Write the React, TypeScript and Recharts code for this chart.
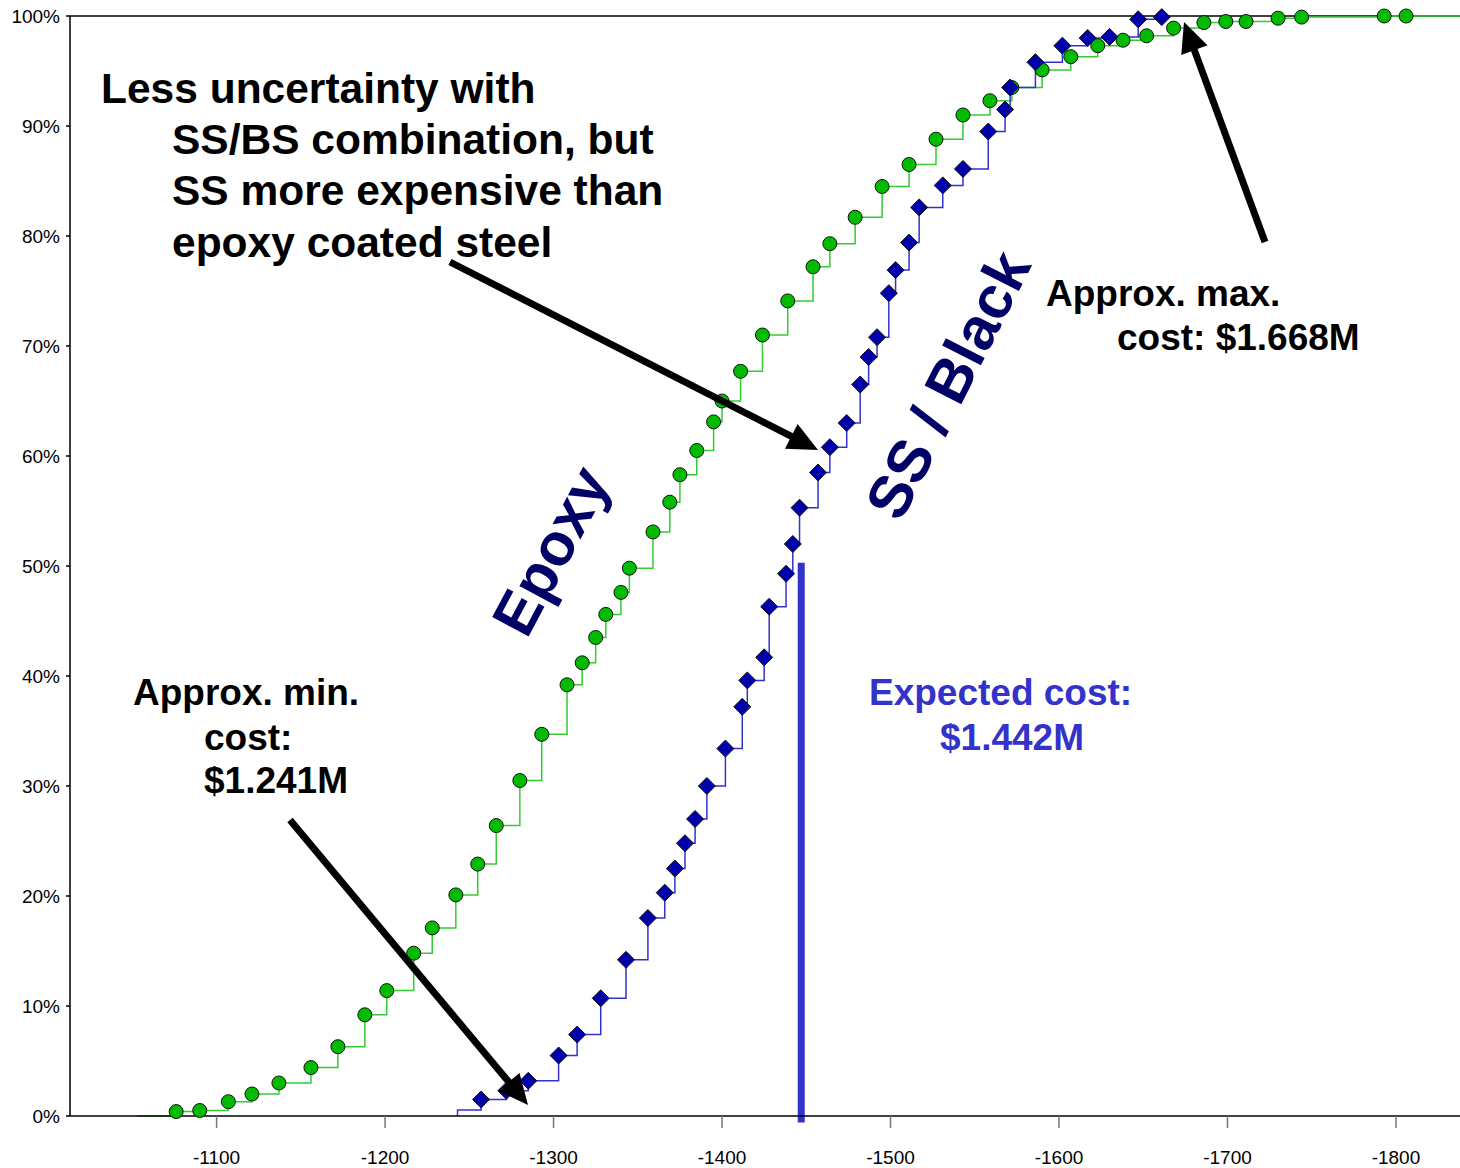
import React from 'react';
import { LineChart, Line, XAxis, YAxis, ReferenceLine } from 'recharts';

// cost (negative, $K) and cumulative probability (%)
const epoxyCost = [
  -1076, -1090, -1107, -1121, -1137, -1156, -1172, -1188, -1201, -1217, -1228, -1242, -1255, -1266,
  -1280, -1293, -1308, -1317, -1325, -1331, -1340, -1345, -1359, -1369, -1375, -1385, -1395, -1400,
  -1411, -1424, -1439, -1454, -1464, -1479, -1495, -1511, -1527, -1543, -1559, -1572, -1590, -1607,
  -1623, -1638, -1652, -1668, -1686, -1699, -1711, -1730, -1744, -1793, -1806,
];
const epoxyPct = [
  0.4, 0.5, 1.3, 2.0, 3.0, 4.4, 6.3, 9.2, 11.4, 14.8, 17.1, 20.1, 22.9, 26.4,
  30.5, 34.7, 39.2, 41.2, 43.5, 45.6, 47.6, 49.8, 53.1, 55.8, 58.3, 60.5, 63.1, 65.0,
  67.7, 71.0, 74.1, 77.2, 79.3, 81.7, 84.5, 86.5, 88.8, 91.0, 92.3, 93.5, 95.1, 96.3,
  97.3, 97.8, 98.2, 98.9, 99.4, 99.5, 99.5, 99.8, 99.9, 100, 100,
];

const ssCost = [
  -1257, -1272, -1285, -1303, -1314, -1328, -1343, -1356, -1366, -1372, -1378, -1384, -1391, -1402,
  -1412, -1415, -1425, -1428, -1438, -1442, -1446, -1457, -1464, -1474, -1482, -1487, -1492, -1499,
  -1503, -1511, -1517, -1531, -1543, -1558, -1568, -1571, -1586, -1602, -1617, -1630, -1647, -1661,
];
const ssPct = [
  1.5, 2.3, 3.2, 5.5, 7.4, 10.7, 14.2, 18.0, 20.3, 22.5, 24.8, 27.0, 30.0, 33.4,
  37.2, 39.6, 41.7, 46.3, 49.3, 52.0, 55.3, 58.5, 60.8, 63.0, 66.5, 69.0, 70.8, 74.8,
  76.9, 79.4, 82.6, 84.6, 86.1, 89.5, 91.5, 93.5, 95.8, 97.3, 98.0, 98.1, 99.7, 99.9,
];

// where the step lines begin / end without a marker
const epoxyStart = { cost: -1053, pct: 0 };
const epoxyEnd = { cost: -1838, pct: 100 };
const ssStart = [{ cost: -1243, pct: 0 }, { cost: -1243, pct: 0.55 }];

const expectedCost = -1447;
const xTicks = [-1100, -1200, -1300, -1400, -1500, -1600, -1700, -1800];
const yTicks = [0, 10, 20, 30, 40, 50, 60, 70, 80, 90, 100];

const epoxyData = [
  { ...epoxyStart, marker: false },
  ...epoxyCost.map((c, i) => ({ cost: c, pct: epoxyPct[i], marker: true })),
  { ...epoxyEnd, marker: false },
];
const ssData = [
  ...ssStart.map((p) => ({ ...p, marker: false })),
  ...ssCost.map((c, i) => ({ cost: c, pct: ssPct[i], marker: true })),
];

const FONT = '"Liberation Sans", Arial, Helvetica, sans-serif';

const CircleDot = (props: any) => {
  const { cx, cy, payload, index } = props;
  if (!payload || !payload.marker) return <g key={`e-${index}`} />;
  return <circle key={`e-${index}`} cx={cx} cy={cy} r={7} fill="#00bb00" stroke="#111" strokeWidth={1} />;
};

const DiamondDot = (props: any) => {
  const { cx, cy, payload, index } = props;
  if (!payload || !payload.marker) return <g key={`s-${index}`} />;
  const r = 8.5;
  return (
    <polygon
      key={`s-${index}`}
      points={`${cx},${cy - r} ${cx + r},${cy} ${cx},${cy + r} ${cx - r},${cy}`}
      fill="#0000aa"
      stroke="#111"
      strokeWidth={1}
    />
  );
};

const Arrow = ({ x1, y1, x2, y2 }: { x1: number; y1: number; x2: number; y2: number }) => {
  const len = Math.hypot(x2 - x1, y2 - y1);
  const ux = (x2 - x1) / len;
  const uy = (y2 - y1) / len;
  const hl = 30;
  const hw = 14;
  const bx = x2 - ux * hl;
  const by = y2 - uy * hl;
  return (
    <g>
      <line x1={x1} y1={y1} x2={bx + ux * 4} y2={by + uy * 4} stroke="#000" strokeWidth={7} />
      <polygon
        points={`${x2},${y2} ${bx - uy * hw},${by + ux * hw} ${bx + uy * hw},${by - ux * hw}`}
        fill="#000"
      />
    </g>
  );
};

const textStyle = { fontFamily: FONT, fontWeight: 700, fontSize: 37 } as const;
const bigText = { fontFamily: FONT, fontWeight: 700, fontSize: 42.5 } as const;
const tickStyle = { fill: '#000', fontSize: 19, fontFamily: FONT };

const App: React.FC = () => {
  return (
    <div style={{ position: 'absolute', left: 0, top: 0, width: 1460, height: 1168 }}>
      <LineChart width={1460} height={1168} margin={{ top: 16, right: 0, bottom: 22, left: 10 }}>
        <XAxis
          type="number"
          dataKey="cost"
          domain={[-1838, -1013]}
          reversed
          allowDataOverflow
          ticks={xTicks}
          height={30}
          tickSize={12}
          tickMargin={23}
          fontSize={19}
          axisLine={{ stroke: '#000', strokeWidth: 1.5 }}
          tickLine={{ stroke: '#777', strokeWidth: 1.5 }}
          tick={tickStyle}
        />
        <YAxis
          type="number"
          dataKey="pct"
          domain={[0, 100]}
          ticks={yTicks}
          width={60}
          tickSize={4}
          tickMargin={6}
          fontSize={19}
          tickFormatter={(v: number) => `${v}%`}
          axisLine={{ stroke: '#000', strokeWidth: 1.5 }}
          tickLine={{ stroke: '#000', strokeWidth: 1.5 }}
          tick={tickStyle}
        />
        <ReferenceLine y={100} stroke="#000" strokeWidth={1.5} />
        <Line
          data={epoxyData}
          dataKey="pct"
          type="stepAfter"
          stroke="#33cc33"
          strokeWidth={1.5}
          dot={CircleDot}
          activeDot={false}
          isAnimationActive={false}
        />
        <Line
          data={ssData}
          dataKey="pct"
          type="stepAfter"
          stroke="#3333cc"
          strokeWidth={1.5}
          dot={DiamondDot}
          activeDot={false}
          isAnimationActive={false}
        />
        <ReferenceLine
          segment={[
            { x: expectedCost, y: -0.6 },
            { x: expectedCost, y: 50.3 },
          ]}
          stroke="#3333cc"
          strokeWidth={7}
          ifOverflow="visible"
        />
      </LineChart>
      <svg
        width={1460}
        height={1168}
        style={{ position: 'absolute', left: 0, top: 0, pointerEvents: 'none' }}
      >
        <g style={bigText} fill="#000" dominantBaseline="central">
          <text x={101} y={88}>Less uncertainty with</text>
          <text x={172} y={139}>SS/BS combination, but</text>
          <text x={172} y={190}>SS more expensive than</text>
          <text x={172} y={242}>epoxy coated steel</text>
        </g>
        <g style={textStyle} fill="#000" dominantBaseline="central">
          <text x={1046} y={293}>Approx. max.</text>
          <text x={1117} y={337}>cost: $1.668M</text>
          <text x={133} y={692}>Approx. min.</text>
          <text x={204} y={737}>cost:</text>
          <text x={204} y={780}>$1.241M</text>
        </g>
        <g style={textStyle} fill="#3333cc" dominantBaseline="central">
          <text x={869} y={692}>Expected cost:</text>
          <text x={940} y={737}>$1.442M</text>
        </g>
        <g style={{ fontFamily: FONT, fontWeight: 700, fontSize: 60 }} fill="#000066">
          <text x={551} y={551} textAnchor="middle" dominantBaseline="central" transform="rotate(-62 551 551)">
            Epoxy
          </text>
          <text x={948} y={385} textAnchor="middle" dominantBaseline="central" transform="rotate(-63 948 385)">
            SS / Black
          </text>
        </g>
        <Arrow x1={450} y1={262} x2={818} y2={450} />
        <Arrow x1={1265} y1={242} x2={1184} y2={22} />
        <Arrow x1={290} y1={820} x2={528} y2={1105} />
      </svg>
    </div>
  );
};

export default App;
